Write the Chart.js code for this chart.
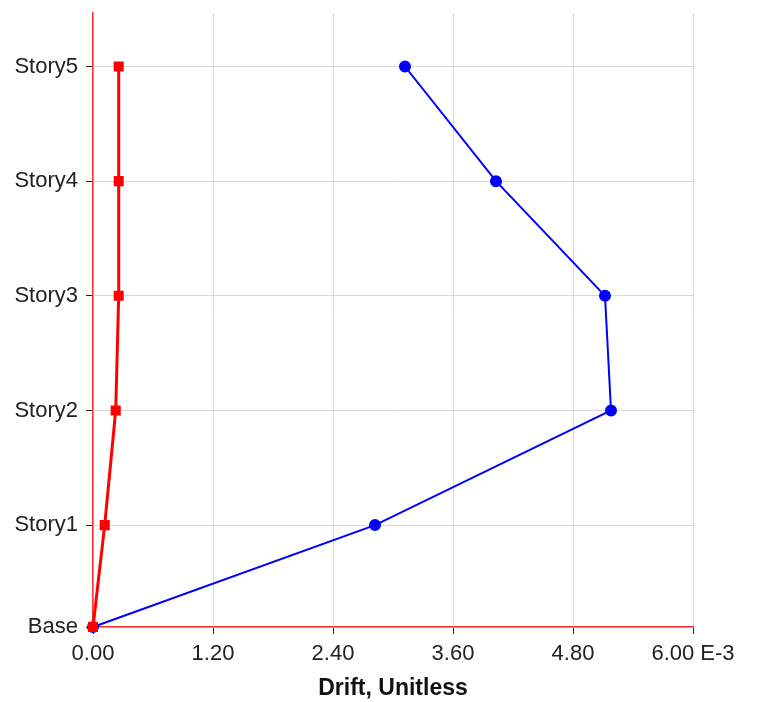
<!DOCTYPE html>
<html>
<head>
<meta charset="utf-8">
<script src="https://cdn.jsdelivr.net/npm/chart.js"></script>
<style>
  html, body { margin: 0; padding: 0; background: #fff; }
  #wrap { width: 762px; height: 702px; }
</style>
</head>
<body>
<div id="wrap"><canvas id="driftChart" width="762" height="702"></canvas></div>
<script>
const stories = ["Base", "Story1", "Story2", "Story3", "Story4", "Story5"];
const elevations = [0, 4, 8.5, 13, 17.5, 22];
const driftX = [0, 2.82, 5.18, 5.12, 4.03, 3.12];
const driftY = [0, 0.117, 0.227, 0.257, 0.257, 0.257];
const xTicks = [0, 1.2, 2.4, 3.6, 4.8, 6.0];

const toPoints = vals => vals.map((v, i) => ({ x: v, y: elevations[i] }));

const ctx = document.getElementById("driftChart").getContext("2d");

new Chart(ctx, {
  type: "scatter",
  data: {
    datasets: [{
      label: "Drift Y",
      data: toPoints(driftY),
      showLine: true,
      clip: false,
      borderColor: "#ff0000",
      backgroundColor: "#ff0000",
      borderWidth: 3,
      pointRadius: 5,
      pointStyle: "rect"
    }, {
      label: "Drift X",
      data: toPoints(driftX),
      showLine: true,
      clip: false,
      borderColor: "#0000ff",
      backgroundColor: "#0000ff",
      borderWidth: 2,
      pointRadius: 5,
      pointStyle: "circle"
    }]
  },
  options: {
    responsive: false,
    animation: false,
    layout: {
      padding: { top: 13, right: 69, left: 0, bottom: 0 }
    },
    plugins: {
      legend: { display: false },
      tooltip: { enabled: false }
    },
    scales: {
      x: {
        type: "linear",
        min: 0,
        max: 6,
        afterBuildTicks: axis => {
          axis.ticks = xTicks.map(v => ({ value: v }));
        },
        afterFit: axis => { axis.height = 75; },
        ticks: {
          autoSkip: false,
          maxRotation: 0,
          padding: 7,
          color: "#222",
          font: { family: "Liberation Sans, Arial", size: 22 },
          callback: v => v === 6 ? v.toFixed(2) + " E-3" : v.toFixed(2)
        },
        grid: {
          color: "#d9d9d9",
          tickColor: "#222",
          tickLength: 7
        },
        border: { color: "#ff3333", width: 1.5 },
        title: {
          display: true,
          text: "Drift, Unitless",
          color: "#111",
          padding: { top: 2, bottom: 0 },
          font: { family: "Liberation Sans, Arial", size: 23, weight: "bold" }
        }
      },
      y: {
        type: "linear",
        min: 0,
        max: 24.1,
        afterBuildTicks: axis => {
          axis.ticks = elevations.map(v => ({ value: v }));
        },
        afterFit: axis => {
          axis.width = 93;
          axis.paddingTop = 0;
          axis.paddingBottom = 0;
        },
        ticks: {
          autoSkip: false,
          padding: 8,
          color: "#222",
          font: { family: "Liberation Sans, Arial", size: 22 },
          callback: v => stories[elevations.indexOf(v)]
        },
        grid: {
          color: "#d9d9d9",
          tickColor: "#222",
          tickLength: 7
        },
        border: { color: "#ff3333", width: 1.5 }
      }
    }
  }
});
</script>
</body>
</html>
